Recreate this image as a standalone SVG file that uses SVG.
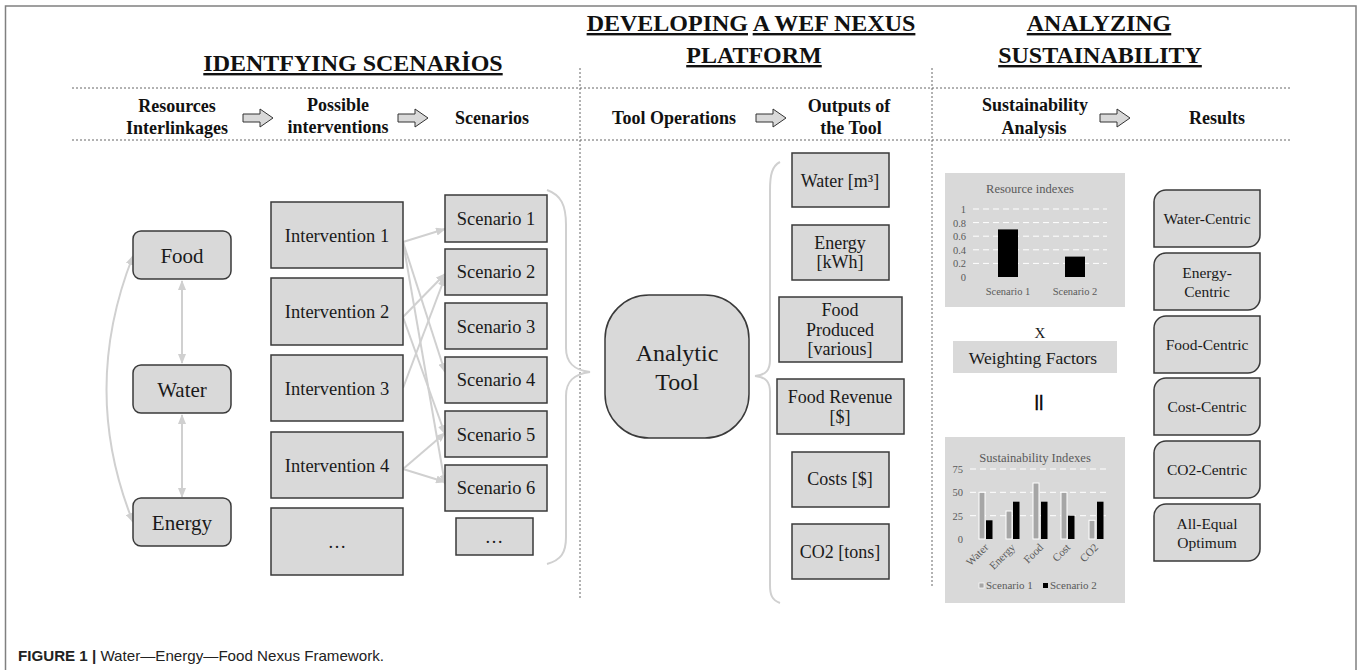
<svg xmlns="http://www.w3.org/2000/svg" width="1360" height="670" viewBox="0 0 1360 670">
<style>
.box{fill:#d9d9d9;stroke:#3a3a3a;stroke-width:1.5}
.t{font-family:"Liberation Serif","Times New Roman",serif;fill:#1a1a1a;text-anchor:middle}
.h{font-family:"Liberation Serif","Times New Roman",serif;font-weight:bold;fill:#111;text-anchor:middle}
.conn{stroke:#d0d0d0;stroke-width:2;fill:none}
.dot{stroke:#666;stroke-width:1;stroke-dasharray:2 2;fill:none}
.ct{font-family:"Liberation Serif","Times New Roman",serif;fill:#595959}
.grid{stroke:#fff;stroke-width:1;stroke-dasharray:6 4}
.barA{fill:#a6a6a6;stroke:#fff;stroke-width:1}
.barB{fill:#000}
.ba{fill:#d9d9d9;stroke:#333;stroke-width:1}
</style>
<defs>
<marker id="ah" markerUnits="userSpaceOnUse" markerWidth="10" markerHeight="8" refX="9" refY="4" orient="auto-start-reverse">
<path d="M0,0 L10,4 L0,8 Z" fill="#d0d0d0"/>
</marker>
<path id="blk" d="M0,-4 H17 V-9 L30,0 L17,9 V4 H0 Z"/>
</defs>

<rect x="5.5" y="6" width="1350.5" height="680" fill="none" stroke="#808080" stroke-width="1.5"/>

<g id="headers">
<text class="h" x="353" y="71" font-size="24" style="text-decoration:underline">IDENTFYING SCENARİOS</text>
<text class="h" x="751" y="31" font-size="24"><tspan style="text-decoration:underline">DEVELOPING</tspan> <tspan style="text-decoration:underline">A WEF NEXUS</tspan></text>
<text class="h" x="754" y="63" font-size="24" style="text-decoration:underline">PLATFORM</text>
<text class="h" x="1099" y="31" font-size="24" style="text-decoration:underline">ANALYZING</text>
<text class="h" x="1100" y="63" font-size="24" style="text-decoration:underline">SUSTAINABILITY</text>
</g>

<g id="dividers">
<line class="dot" x1="72" y1="88" x2="1290" y2="88"/>
<line class="dot" x1="72" y1="140" x2="1290" y2="140"/>
<line class="dot" x1="580" y1="68" x2="580" y2="598"/>
<line class="dot" x1="932" y1="68" x2="932" y2="588"/>
</g>

<g id="steps">
<text class="h" font-size="18" x="177" y="112">Resources</text>
<text class="h" font-size="18" x="177" y="134">Interlinkages</text>
<use href="#blk" x="243" y="118" class="ba"/>
<text class="h" font-size="18" x="338" y="111">Possible</text>
<text class="h" font-size="18" x="338" y="133">interventions</text>
<use href="#blk" x="398" y="118" class="ba"/>
<text class="h" font-size="18" x="492" y="124">Scenarios</text>
<text class="h" font-size="18" x="674" y="124">Tool Operations</text>
<use href="#blk" x="756" y="118" class="ba"/>
<text class="h" font-size="18" x="849" y="112">Outputs of</text>
<text class="h" font-size="18" x="851" y="134">the Tool</text>
<text class="h" font-size="18" x="1035" y="111">Sustainability</text>
<text class="h" font-size="18" x="1034" y="134">Analysis</text>
<use href="#blk" x="1100" y="118" class="ba"/>
<text class="h" font-size="18" x="1217" y="124">Results</text>
</g>

<g id="connectors">
<path class="conn" d="M182,281 V363" marker-start="url(#ah)" marker-end="url(#ah)"/>
<path class="conn" d="M182,415 V497" marker-start="url(#ah)" marker-end="url(#ah)"/>
<path class="conn" d="M133,256 Q80,390 133,522" marker-start="url(#ah)" marker-end="url(#ah)"/>
<path class="conn" d="M403,242 L445,229" marker-end="url(#ah)"/>
<path class="conn" d="M403,242 L445,372" marker-end="url(#ah)"/>
<path class="conn" d="M403,242 L445,484" marker-end="url(#ah)"/>
<path class="conn" d="M403,317 L445,274" marker-end="url(#ah)"/>
<path class="conn" d="M403,317 L445,434" marker-end="url(#ah)"/>
<path class="conn" d="M403,388 L445,277" marker-end="url(#ah)"/>
<path class="conn" d="M403,469 L445,433" marker-end="url(#ah)"/>
<path class="conn" d="M403,469 L445,482" marker-end="url(#ah)"/>
<path class="conn" d="M547,190 C561,195 566,205 566,225 L566,348 C566,363 574,370 590,372 C574,374 566,381 566,396 L566,537 C566,553 561,560 547,564"/>
<path class="conn" d="M780,162 C772,166 770,175 770,190 L770,360 C770,370 766,375 755,376 C766,377 770,382 770,392 L770,585 C770,595 772,600 780,603"/>
</g>

<g id="food"><rect class="box" x="133" y="231" width="98" height="48" rx="8"/><text class="t" x="182" y="263" font-size="21">Food</text></g>
<g id="water"><rect class="box" x="133" y="365" width="98" height="48" rx="8"/><text class="t" x="182" y="397" font-size="21">Water</text></g>
<g id="energy"><rect class="box" x="133" y="498" width="98" height="48" rx="8"/><text class="t" x="182" y="530" font-size="21">Energy</text></g>

<g id="int1"><rect class="box" x="271" y="202" width="132" height="66"/><text class="t" x="337" y="242" font-size="18.5">Intervention 1</text></g>
<g id="int2"><rect class="box" x="271" y="278" width="132" height="67"/><text class="t" x="337" y="318" font-size="18.5">Intervention 2</text></g>
<g id="int3"><rect class="box" x="271" y="355" width="132" height="66"/><text class="t" x="337" y="395" font-size="18.5">Intervention 3</text></g>
<g id="int4"><rect class="box" x="271" y="432" width="132" height="66"/><text class="t" x="337" y="472" font-size="18.5">Intervention 4</text></g>
<g id="int5"><rect class="box" x="271" y="508" width="132" height="67"/><text class="t" x="337" y="548" font-size="18.5">…</text></g>

<g id="sc1"><rect class="box" x="445" y="195" width="102" height="47"/><text class="t" x="496" y="225" font-size="18.5">Scenario 1</text></g>
<g id="sc2"><rect class="box" x="445" y="249" width="102" height="46"/><text class="t" x="496" y="278" font-size="18.5">Scenario 2</text></g>
<g id="sc3"><rect class="box" x="445" y="303" width="102" height="46"/><text class="t" x="496" y="333" font-size="18.5">Scenario 3</text></g>
<g id="sc4"><rect class="box" x="445" y="357" width="102" height="46"/><text class="t" x="496" y="386" font-size="18.5">Scenario 4</text></g>
<g id="sc5"><rect class="box" x="445" y="411" width="102" height="46"/><text class="t" x="496" y="441" font-size="18.5">Scenario 5</text></g>
<g id="sc6"><rect class="box" x="445" y="465" width="102" height="46"/><text class="t" x="496" y="494" font-size="18.5">Scenario 6</text></g>
<g id="sc7"><rect class="box" x="456" y="518" width="77" height="37"/><text class="t" x="494" y="543" font-size="18.5">…</text></g>

<g id="tool"><rect class="box" x="605" y="295" width="144" height="143" rx="44"/><text class="t" x="677" y="361" font-size="24">Analytic</text><text class="t" x="677" y="390" font-size="24">Tool</text></g>

<g id="out1"><rect class="box" x="792" y="153" width="97" height="54"/><text class="t" x="840" y="187" font-size="18">Water [m³]</text></g>
<g id="out2"><rect class="box" x="792" y="225" width="97" height="55"/><text class="t" x="840" y="249" font-size="18">Energy</text><text class="t" x="840" y="268" font-size="18">[kWh]</text></g>
<g id="out3"><rect class="box" x="779" y="297" width="123" height="65"/><text class="t" x="840" y="316" font-size="18">Food</text><text class="t" x="840" y="336" font-size="18">Produced</text><text class="t" x="840" y="355" font-size="18">[various]</text></g>
<g id="out4"><rect class="box" x="777" y="379" width="127" height="55"/><text class="t" x="840" y="403" font-size="18">Food Revenue</text><text class="t" x="840" y="423" font-size="18">[$]</text></g>
<g id="out5"><rect class="box" x="792" y="452" width="97" height="55"/><text class="t" x="840" y="485" font-size="18">Costs [$]</text></g>
<g id="out6"><rect class="box" x="792" y="524" width="97" height="55"/><text class="t" x="840" y="558" font-size="18">CO2 [tons]</text></g>

<g id="chart1">
<rect x="945" y="173" width="180" height="134" fill="#d9d9d9"/>
<text class="ct" x="1030" y="193" font-size="12.5" text-anchor="middle">Resource indexes</text>
<line class="grid" x1="973" y1="209" x2="1107" y2="209"/>
<line class="grid" x1="973" y1="222.6" x2="1107" y2="222.6"/>
<line class="grid" x1="973" y1="236.2" x2="1107" y2="236.2"/>
<line class="grid" x1="973" y1="249.8" x2="1107" y2="249.8"/>
<line class="grid" x1="973" y1="263.4" x2="1107" y2="263.4"/>
<g class="ct" font-size="10.5" text-anchor="end">
<text x="966" y="213">1</text><text x="966" y="226.6">0.8</text><text x="966" y="240.2">0.6</text><text x="966" y="253.8">0.4</text><text x="966" y="267.4">0.2</text><text x="966" y="281">0</text>
</g>
<rect x="998" y="229.4" width="20" height="47.6" fill="#000"/>
<rect x="1065" y="256.6" width="20" height="20.4" fill="#000"/>
<text class="ct" x="1008" y="295" font-size="10.5" text-anchor="middle">Scenario 1</text>
<text class="ct" x="1075" y="295" font-size="10.5" text-anchor="middle">Scenario 2</text>
</g>

<g id="times"><text class="t" x="1040" y="338" font-size="15">X</text></g>
<g id="weights"><rect x="953" y="341" width="164" height="32" fill="#d9d9d9"/><text class="t" x="1033" y="364" font-size="17.5">Weighting Factors</text></g>
<g id="equals"><text x="1039" y="407" font-size="17" font-family="Liberation Sans, sans-serif" text-anchor="middle" fill="#000" stroke="#000" stroke-width="0.6">||</text></g>

<g id="chart2">
<rect x="945" y="437" width="180" height="166" fill="#d9d9d9"/>
<text class="ct" x="1035" y="462" font-size="12.6" text-anchor="middle">Sustainability Indexes</text>
<line class="grid" x1="970" y1="469" x2="1110" y2="469"/>
<line class="grid" x1="970" y1="492.3" x2="1110" y2="492.3"/>
<line class="grid" x1="970" y1="515.7" x2="1110" y2="515.7"/>
<g class="ct" font-size="10.5" text-anchor="end">
<text x="963" y="473">75</text><text x="963" y="496">50</text><text x="963" y="520">25</text><text x="963" y="543">0</text>
</g>
<rect class="barA" x="979" y="492.3" width="6" height="46.7"/><rect class="barB" x="986" y="520.3" width="6.5" height="18.7"/>
<rect class="barA" x="1006" y="511" width="6" height="28"/><rect class="barB" x="1013" y="501.7" width="6.5" height="37.3"/>
<rect class="barA" x="1033" y="483" width="6" height="56"/><rect class="barB" x="1041" y="501.7" width="6.5" height="37.3"/>
<rect class="barA" x="1061" y="492.3" width="6" height="46.7"/><rect class="barB" x="1068" y="515.7" width="6.5" height="23.3"/>
<rect class="barA" x="1089" y="520.3" width="6" height="18.7"/><rect class="barB" x="1097" y="501.7" width="6.5" height="37.3"/>
<g class="ct" font-size="11" text-anchor="end">
<text x="989" y="548" transform="rotate(-45 989 548)">Water</text>
<text x="1016" y="548" transform="rotate(-45 1016 548)">Energy</text>
<text x="1044" y="548" transform="rotate(-45 1044 548)">Food</text>
<text x="1071" y="548" transform="rotate(-45 1071 548)">Cost</text>
<text x="1099" y="548" transform="rotate(-45 1099 548)">CO2</text>
</g>
<rect x="979" y="583" width="5" height="5" fill="#a6a6a6" stroke="#fff" stroke-width="0.7"/>
<text class="ct" x="986" y="589" font-size="11">Scenario 1</text>
<rect x="1043" y="583" width="5" height="5" fill="#000"/>
<text class="ct" x="1050" y="589" font-size="11">Scenario 2</text>
</g>

<g id="res1"><path class="box" d="M1166,190 H1260 V235 A12,12 0 0 1 1248,247 H1154 V202 A12,12 0 0 1 1166,190 Z"/><text class="t" x="1207" y="224" font-size="15.5">Water-Centric</text></g>
<g id="res2"><path class="box" d="M1166,253 H1260 V298 A12,12 0 0 1 1248,310 H1154 V265 A12,12 0 0 1 1166,253 Z"/><text class="t" x="1207" y="278" font-size="15.5">Energy-</text><text class="t" x="1207" y="297" font-size="15.5">Centric</text></g>
<g id="res3"><path class="box" d="M1166,316 H1260 V361 A12,12 0 0 1 1248,373 H1154 V328 A12,12 0 0 1 1166,316 Z"/><text class="t" x="1207" y="350" font-size="15.5">Food-Centric</text></g>
<g id="res4"><path class="box" d="M1166,378 H1260 V423 A12,12 0 0 1 1248,435 H1154 V390 A12,12 0 0 1 1166,378 Z"/><text class="t" x="1207" y="412" font-size="15.5">Cost-Centric</text></g>
<g id="res5"><path class="box" d="M1166,441 H1260 V486 A12,12 0 0 1 1248,498 H1154 V453 A12,12 0 0 1 1166,441 Z"/><text class="t" x="1207" y="475" font-size="15.5">CO2-Centric</text></g>
<g id="res6"><path class="box" d="M1166,504 H1260 V549 A12,12 0 0 1 1248,561 H1154 V516 A12,12 0 0 1 1166,504 Z"/><text class="t" x="1207" y="529" font-size="15.5">All-Equal</text><text class="t" x="1207" y="548" font-size="15.5">Optimum</text></g>

<g id="caption">
<text x="18" y="661" font-size="15" font-family="Liberation Sans, sans-serif" fill="#222" textLength="366" lengthAdjust="spacingAndGlyphs"><tspan font-weight="bold">FIGURE 1 |</tspan> Water—Energy—Food Nexus Framework.</text>
</g>
</svg>
